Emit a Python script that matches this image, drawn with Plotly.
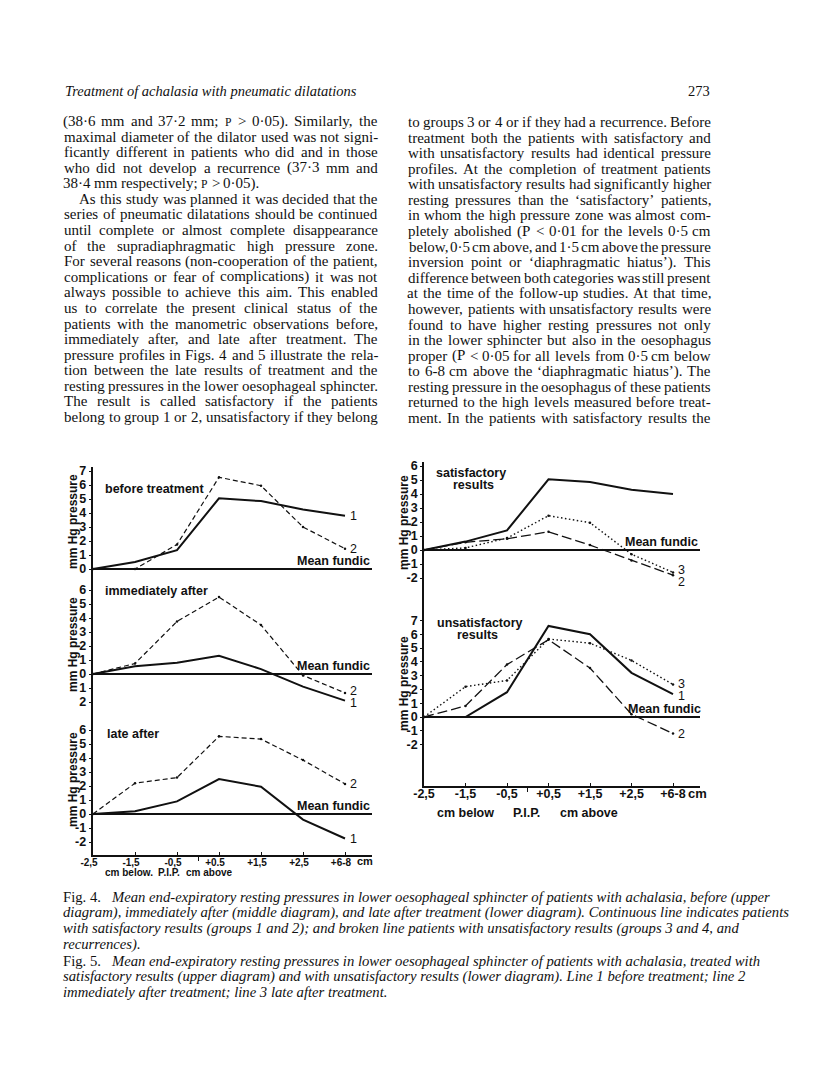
import plotly.graph_objects as go

W, H = 816, 1080
INK = "#111111"
SERIF = "Liberation Serif"
SANS = "Liberation Sans"

# ---- chart data (mm Hg, relative to mean fundic pressure) ----------------
pos = [0, 1, 2, 3, 4, 5, 6]
levels_left = ["-2,5", "-1,5", "-0,5", "+0.5", "+1,5", "+2,5", "+6-8"]
levels_right = ["-2,5", "-1,5", "-0,5", "+0,5", "+1,5", "+2,5", "+6-8"]

# Fig. 4: line 1 = satisfactory results, line 2 = unsatisfactory results
before_1 = [0, 0.5, 1.35, 5.05, 4.85, 4.25, 3.8]
before_2 = [0, 0.0, 1.75, 6.55, 5.95, 3.0, 1.45]
immed_1 = [0, 0.55, 0.8, 1.3, 0.35, -0.9, -1.9]
immed_2 = [0, 0.75, 3.75, 5.5, 3.5, -0.1, -1.35]
late_1 = [0, 0.2, 0.9, 2.5, 1.95, -0.4, -1.75]
late_2 = [0, 2.2, 2.6, 5.55, 5.35, 3.85, 2.15]

# Fig. 5: line 1 before, line 2 immediately after, line 3 late after treatment
sat_1 = [0, 0.6, 1.4, 5.05, 4.85, 4.3, 4.0]
sat_2 = [0, 0.55, 0.8, 1.3, 0.35, -0.75, -1.8]
sat_3 = [0, 0.15, 0.85, 2.45, 1.95, -0.3, -1.6]
unsat_1 = [0, 0.0, 1.8, 6.6, 6.0, 3.2, 1.65]
unsat_2 = [0, 0.8, 3.8, 5.6, 3.55, 0.2, -1.2]
unsat_3 = [0, 2.2, 2.65, 5.65, 5.35, 4.1, 2.35]

# ---- page text -----------------------------------------------------------
running_head = "Treatment of achalasia with pneumatic dilatations"
page_no = "273"

left_col = [
    "(38\u00b76 mm and 37\u00b72 mm; P > 0\u00b705). Similarly, the",
    "maximal diameter of the dilator used was not signi-",
    "ficantly different in patients who did and in those",
    "who did not develop a recurrence (37\u00b73 mm and",
    "38\u00b74 mm respectively; P > 0\u00b705).",
    "As this study was planned it was decided that the",
    "series of pneumatic dilatations should be continued",
    "until complete or almost complete disappearance",
    "of the supradiaphragmatic high pressure zone.",
    "For several reasons (non-cooperation of the patient,",
    "complications or fear of complications) it was not",
    "always possible to achieve this aim. This enabled",
    "us to correlate the present clinical status of the",
    "patients with the manometric observations before,",
    "immediately after, and late after treatment. The",
    "pressure profiles in Figs. 4 and 5 illustrate the rela-",
    "tion between the late results of treatment and the",
    "resting pressures in the lower oesophageal sphincter.",
    "The result is called satisfactory if the patients",
    "belong to group 1 or 2, unsatisfactory if they belong",
]
right_col = [
    "to groups 3 or 4 or if they had a recurrence. Before",
    "treatment both the patients with satisfactory and",
    "with unsatisfactory results had identical pressure",
    "profiles. At the completion of treatment patients",
    "with unsatisfactory results had significantly higher",
    "resting pressures than the \u2018satisfactory\u2019 patients,",
    "in whom the high pressure zone was almost com-",
    "pletely abolished (P < 0\u00b701 for the levels 0\u00b75 cm",
    "below, 0\u00b75 cm above, and 1\u00b75 cm above the pressure",
    "inversion point or \u2018diaphragmatic hiatus\u2019). This",
    "difference between both categories was still present",
    "at the time of the follow-up studies. At that time,",
    "however, patients with unsatisfactory results were",
    "found to have higher resting pressures not only",
    "in the lower sphincter but also in the oesophagus",
    "proper (P < 0\u00b705 for all levels from 0\u00b75 cm below",
    "to 6-8 cm above the \u2018diaphragmatic hiatus\u2019). The",
    "resting pressure in the oesophagus of these patients",
    "returned to the high levels measured before treat-",
    "ment. In the patients with satisfactory results the",
]
caption = [
    ("Fig. 4.", "Mean end-expiratory resting pressures in lower oesophageal sphincter of patients with achalasia, before (upper"),
    ("", "diagram), immediately after (middle diagram), and late after treatment (lower diagram). Continuous line indicates patients"),
    ("", "with satisfactory results (groups 1 and 2); and broken line patients with unsatisfactory results (groups 3 and 4, and"),
    ("", "recurrences)."),
    ("Fig. 5.", "Mean end-expiratory resting pressures in lower oesophageal sphincter of patients with achalasia, treated with"),
    ("", "satisfactory results (upper diagram) and with unsatisfactory results (lower diagram). Line 1 before treatment; line 2"),
    ("", "immediately after treatment; line 3 late after treatment."),
]

# Times-compatible advance widths (1/1000 em) used to justify the columns
SERIF_W = dict(zip("abcdefghijklmnopqrstuvwxyz",
                   [444, 500, 444, 500, 444, 333, 500, 500, 278, 278, 500, 278, 778,
                    500, 500, 500, 500, 333, 389, 278, 500, 500, 722, 500, 500, 444]))
SERIF_W.update(zip("ABCDEFGHIJKLMNOPQRSTUVWXYZ",
                   [722, 667, 667, 722, 611, 556, 722, 722, 333, 389, 722, 611, 889,
                    722, 722, 556, 722, 667, 556, 611, 722, 722, 944, 722, 722, 611]))
SERIF_W.update({c: 500 for c in "0123456789"})
SERIF_W.update({" ": 250, ".": 250, ",": 250, ";": 278, ":": 278, "(": 333, ")": 333,
                "-": 333, "\u2018": 333, "\u2019": 333, ">": 564, "<": 564, "\u00b7": 250})


def serif_em(s):
    return sum(SERIF_W.get(c, 500) for c in s) / 1000.0


notes = []


def note(text, x, y, size, family=SANS, weight="normal", xanchor="center",
         yanchor="middle", **kw):
    d = dict(text=text, x=x / W, y=1 - y / H, xref="paper", yref="paper",
             xanchor=xanchor, yanchor=yanchor, showarrow=False,
             font=dict(family=family, size=size, color=INK, weight=weight))
    d.update(kw)
    notes.append(d)


BODY = 15


def set_line(text, x0, x1, y, justify=True, indent=0):
    words = text.split(" ")
    sizes = [BODY * 0.78 if w == "P" else BODY for w in words]
    widths = [serif_em(w) * s for w, s in zip(words, sizes)]
    if justify and len(words) > 1:
        gap = (x1 - x0 - indent - sum(widths)) / (len(words) - 1)
    else:
        gap = 0.25 * BODY
    x = x0 + indent
    for w, s, wd in zip(words, sizes, widths):
        note(w, x + wd / 2, y, s, family=SERIF, yshift=-1 if w == "P" else 0)
        x += wd + gap


# running head and page number
note("<i>%s</i>" % running_head, 63, 91, 14.5, family=SERIF, xanchor="left")
note(page_no, 712, 91, 14.5, family=SERIF, xanchor="right")

LINE = 15.58
for i, t in enumerate(left_col):
    set_line(t, 64, 378, 121 + LINE * i, justify=(i != 4), indent=15 if i == 5 else 0)
for i, t in enumerate(right_col):
    set_line(t, 408, 711, 122 + LINE * i)

cap_size = round(708 / (serif_em(caption[0][0] + "  " + caption[0][1]) * 1.016), 1)
for i, (lead, body) in enumerate(caption):
    txt = (lead + "\u2002 " if lead else "") + "<i>%s</i>" % body
    note(txt, 61, 897 + 15.9 * i, cap_size, family=SERIF, xanchor="left")

# ---- chart panels --------------------------------------------------------
fig = go.Figure()
layout = dict(width=W, height=H, margin=dict(l=0, r=0, t=0, b=0, autoexpand=False),
              autosize=False, paper_bgcolor="white", plot_bgcolor="rgba(0,0,0,0)",
              showlegend=False)

SOLID = dict(color=INK, width=2.0)
SHORT = dict(color=INK, width=1.2, dash="5px,3px")
LONG = dict(color=INK, width=1.3, dash="10px,4px")
DOTS = dict(color=INK, width=1.4, dash="1.5px,2.5px")


def panel(n, xdom, x0, step, ydom, zero, unit, yvals, ytext, series,
          title_lines, ytitle_xy, fundic_shift=0, bottom=None):
    s = "" if n == 1 else str(n)
    xa = dict(domain=[xdom[0] / W, xdom[1] / W],
              range=[(xdom[0] - x0) / step, (xdom[1] - x0) / step],
              anchor="y" + s, showgrid=False, zeroline=False, fixedrange=True,
              automargin=False)
    if bottom:
        labels, fsize, shift, standoff = bottom
        xa.update(showline=True, linecolor=INK, linewidth=1.6, ticks="inside",
                  ticklen=3, tickwidth=1.2, tickcolor=INK, tickvals=pos,
                  ticktext=labels, ticklabelshift=shift, ticklabelstandoff=standoff,
                  tickfont=dict(family=SANS, size=fsize, color=INK, weight="bold"),
                  minor=dict(tickvals=[2.5], ticks="outside", ticklen=4,
                             tickwidth=1.2, tickcolor=INK))
    else:
        xa.update(showline=False, showticklabels=False, ticks="")
    ya = dict(domain=[1 - ydom[1] / H, 1 - ydom[0] / H],
              range=[(zero - ydom[1]) / unit, (zero - ydom[0]) / unit],
              anchor="x" + s, showline=True, linecolor=INK, linewidth=1.6,
              ticks="outside", ticklen=2, tickwidth=1.2, tickcolor=INK,
              tickvals=yvals, ticktext=ytext, ticklabelstandoff=0,
              tickfont=dict(family=SANS, size=12.5, color=INK, weight="bold"),
              showgrid=False, zeroline=True, zerolinecolor=INK, zerolinewidth=1.8,
              fixedrange=True, automargin=False)
    layout["xaxis" + s] = xa
    layout["yaxis" + s] = ya
    for vals, style, label, lshift in series:
        dotted = "dash" in style
        fig.add_trace(go.Scatter(
            x=pos, y=vals, xaxis="x" + s, yaxis="y" + s, hoverinfo="skip",
            mode="lines+markers" if dotted else "lines", line=style,
            marker=dict(size=2.5, color=INK)))
        notes.append(dict(text=label, x=pos[-1], y=vals[-1], xref="x" + s,
                          yref="y" + s, xanchor="left", yanchor="middle",
                          xshift=3, yshift=lshift, showarrow=False, height=12,
                          font=dict(family=SANS, size=12.5, color=INK)))
    notes.append(dict(text="Mean fundic", x=1, y=0, xref="x%s domain" % s,
                      yref="y" + s, xanchor="right", yanchor="bottom",
                      xshift=fundic_shift, yshift=-1, showarrow=False,
                      font=dict(family=SANS, size=12.5, color=INK, weight="bold")))
    for text, tx, ty, anchor in title_lines:
        note(text, tx, ty, 12.5, weight="bold", xanchor=anchor)
    note("mm Hg pressure", ytitle_xy[0], ytitle_xy[1], 12, weight="bold",
         textangle=-90)


LX = (92.5, 372)
RX = (424, 700)

panel(1, LX, 93, 42, (467, 582), 569, 14, list(range(0, 8)),
      [str(v) for v in range(0, 8)],
      [(before_1, SOLID, "1", 0), (before_2, SHORT, "2", 0)],
      [("before treatment", 103, 489, "left")], (73, 522))
panel(2, LX, 93, 42, (582, 720), 674, 14, list(range(-2, 7)),
      [str(abs(v)) for v in range(-2, 7)],
      [(immed_1, SOLID, "1", -2.5), (immed_2, SHORT, "2", 1.5)],
      [("immediately after", 103, 591, "left")], (73, 645))
panel(3, LX, 93, 42, (720, 855), 814, 14, list(range(-2, 7)),
      [str(v) for v in range(-2, 7)],
      [(late_1, SOLID, "1", 0), (late_2, SHORT, "2", 0)],
      [("late after", 105, 734, "left")], (73, 780),
      bottom=(levels_left, 10, -4, -3))
panel(4, RX, 424, 41.5, (462, 600), 550, 14, list(range(-2, 7)),
      [str(v) for v in range(-2, 7)],
      [(sat_1, SOLID, "", 0), (sat_2, LONG, "2", -7), (sat_3, DOTS, "3", 2)],
      [("satisfactory", 471, 473, "center"), ("results", 473, 485, "center")],
      (404, 523))
panel(5, RX, 424, 41.5, (600, 786), 717, 13.8, list(range(-2, 8)),
      [str(v) for v in range(-2, 8)],
      [(unsat_1, SOLID, "1", -2), (unsat_2, LONG, "2", 0), (unsat_3, DOTS, "3", 1)],
      [("unsatisfactory", 479, 623, "center"), ("results", 477, 635, "center")],
      (404, 684), fundic_shift=3, bottom=(levels_right, 12.5, 0, -5))

# axis unit and region captions
note("cm", 355, 861, 11, weight="bold", xanchor="left")
note("cm below.", 129, 872, 10, weight="bold", height=11)
note("P.I.P.", 169, 872, 10, weight="bold", height=11)
note("cm above", 210, 872, 10, weight="bold", height=11)
note("cm", 686, 793, 13, weight="bold", xanchor="left")
note("cm below", 465, 813, 12.5, weight="bold")
note("P.I.P.", 526, 813, 12.5, weight="bold")
note("cm above", 589, 813, 12.5, weight="bold")

layout["annotations"] = notes
fig.update_layout(**layout)
fig.write_html("out.html", config={"displayModeBar": False},
               post_script="document.body.style.margin='0';"
                           "document.body.style.overflow='hidden';")
